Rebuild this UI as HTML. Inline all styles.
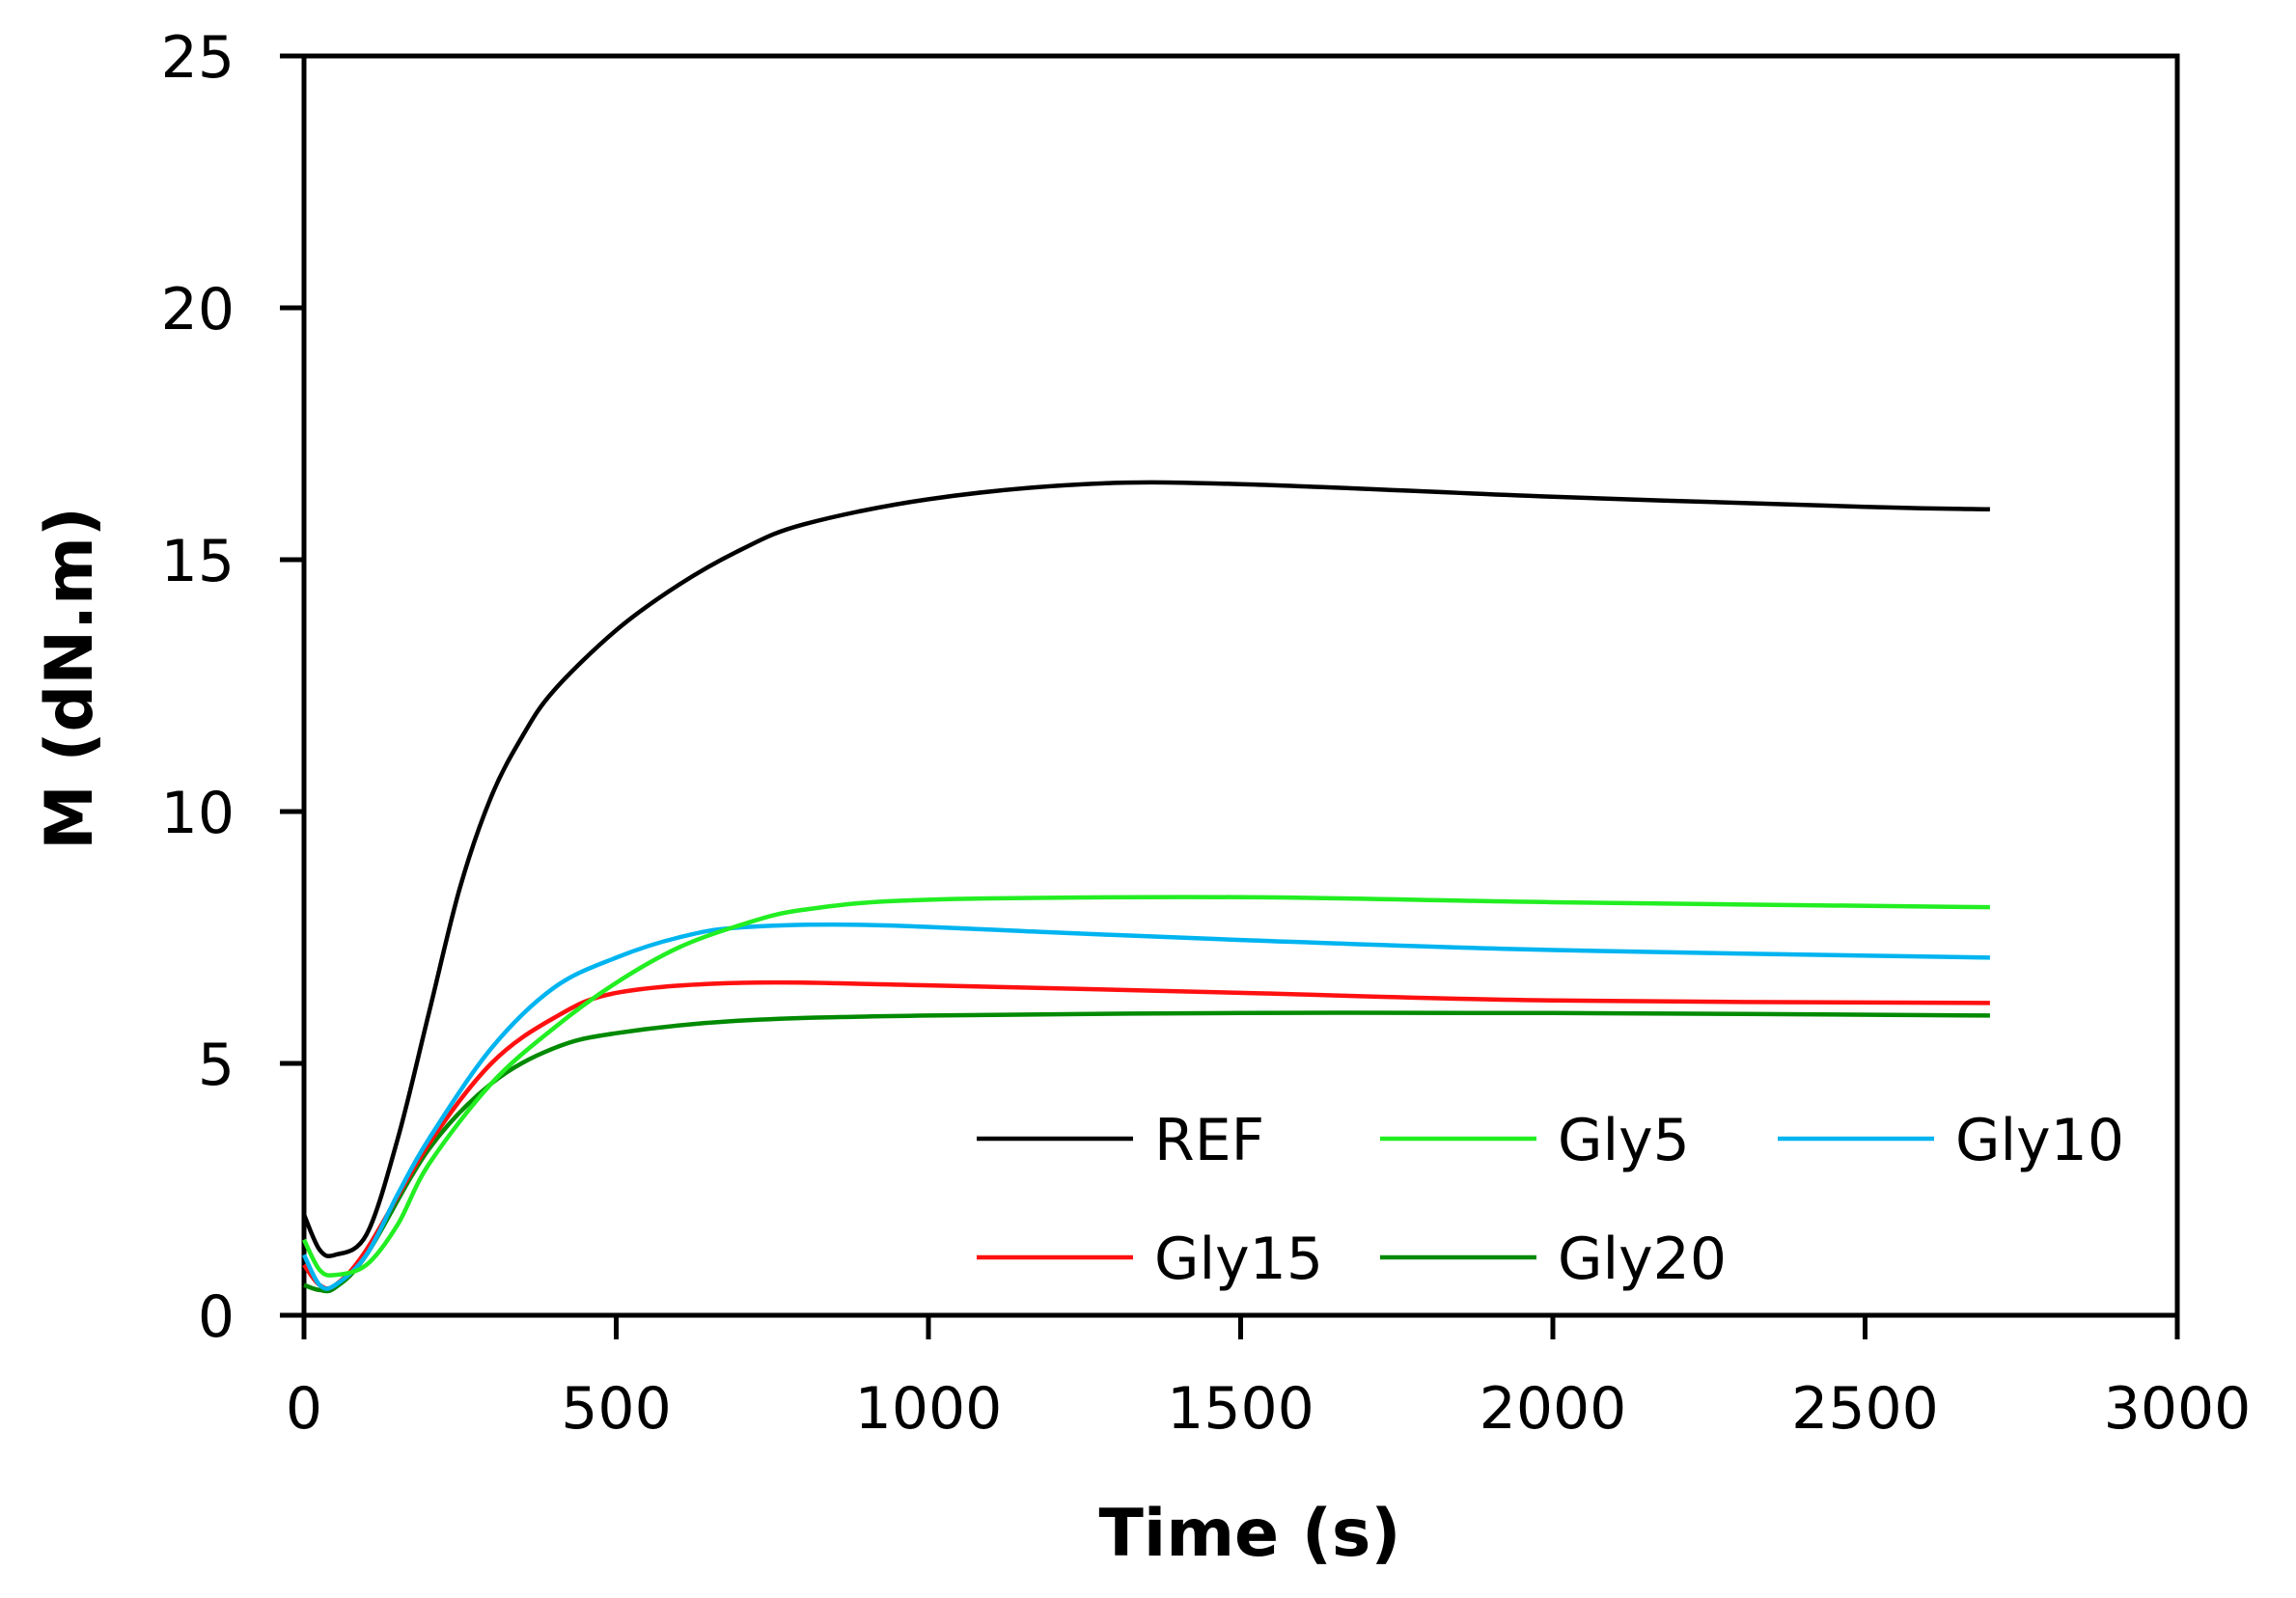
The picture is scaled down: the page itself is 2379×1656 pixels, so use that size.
<!DOCTYPE html>
<html><head><meta charset="utf-8"><style>
html,body{margin:0;padding:0;background:#fff;}
svg{display:block;font-family:"DejaVu Sans","Liberation Sans",sans-serif;}
</style></head><body>
<svg id="chart" width="2379" height="1656" viewBox="0 0 2379 1656">
<g id="axes"></g><g id="series"></g><g id="legend"></g>
<text x="1295" y="1612" font-size="68" font-weight="bold" text-anchor="middle">Time (s)</text>
<text transform="translate(95,703) rotate(-90)" font-size="68" font-weight="bold" text-anchor="middle">M (dN.m)</text>
</svg>
<script>
const xTicks=[0,500,1000,1500,2000,2500,3000];
const yTicks=[0,5,10,15,20,25];
const seriesNames=["REF","Gly5","Gly10","Gly15","Gly20"];
const seriesColors=["#000000","#22ee22","#00b4f0","#ff1010","#008a00"];
const timeREF=[0,25,50,100,150,200,250,300,350,400,500,600,700,800,1000,1250,1500,2000,2500,2700];
const valREF=[2.0,1.3,1.2,1.6,3.5,6.0,8.5,10.3,11.5,12.4,13.6,14.5,15.2,15.7,16.2,16.5,16.5,16.25,16.05,16.0];
const timeGly5=[0,25,50,100,150,200,300,400,500,600,700,800,1000,1500,2000,2700];
const valGly5=[1.5,0.9,0.8,1.0,1.8,3.0,4.6,5.7,6.6,7.3,7.75,8.05,8.25,8.3,8.2,8.1];
const timeGly10=[0,25,50,100,150,200,300,400,500,600,700,900,1200,1500,2000,2700];
const valGly10=[1.2,0.6,0.6,1.2,2.4,3.5,5.3,6.5,7.1,7.5,7.7,7.75,7.6,7.45,7.25,7.1];
const timeGly15=[0,25,50,100,200,300,400,500,700,1000,1500,2000,2700];
const valGly15=[1.0,0.6,0.6,1.3,3.4,5.0,5.9,6.4,6.6,6.55,6.4,6.25,6.2];
const timeGly20=[0,25,50,100,200,300,400,500,700,1000,1500,2000,2700];
const valGly20=[0.6,0.5,0.55,1.2,3.3,4.6,5.3,5.6,5.85,5.95,6.0,6.0,5.95];
const times=[timeREF,timeGly5,timeGly10,timeGly15,timeGly20];
const vals=[valREF,valGly5,valGly10,valGly15,valGly20];

const L=315,R=2256,T=58,B=1363;
const xs=v=>L+(v-0)/(3000-0)*(R-L);
const ys=v=>B-(v-0)/(25-0)*(B-T);
const NS="http://www.w3.org/2000/svg";
function mk(tag,parent,attrs){const e=document.createElementNS(NS,tag);for(const k in attrs)e.setAttribute(k,attrs[k]);parent.appendChild(e);return e;}
const axes=document.getElementById('axes');
const frame=mk('rect',axes,{x:L,y:T,width:R-L,height:B-T,fill:'none',stroke:'#000','stroke-width':5});


xTicks.forEach(t=>{
 const tk=mk('line',axes,{x1:xs(t),x2:xs(t),y1:B,y2:B+25,stroke:'#000','stroke-width':5});
 
 
 const lb=mk('text',axes,{x:xs(t),y:B+117,'font-size':60,'text-anchor':'middle'});
 lb.textContent=t;
 
 
});
yTicks.forEach(t=>{
 const tk=mk('line',axes,{x1:L-25,x2:L,y1:ys(t),y2:ys(t),stroke:'#000','stroke-width':5});
 
 
 const lb=mk('text',axes,{x:243,y:ys(t)+22,'font-size':60,'text-anchor':'end'});
 lb.textContent=t;
 
 
});
function smooth(pts){
 let d='M'+pts[0][0]+','+pts[0][1];
 for(let i=0;i<pts.length-1;i++){
  const p0=pts[i-1]||pts[i],p1=pts[i],p2=pts[i+1],p3=pts[i+2]||p2;
  const c1=[p1[0]+(p2[0]-p0[0])/6,p1[1]+(p2[1]-p0[1])/6];
  const c2=[p2[0]-(p3[0]-p1[0])/6,p2[1]-(p3[1]-p1[1])/6];
  d+=' C'+c1[0]+','+c1[1]+' '+c2[0]+','+c2[1]+' '+p2[0]+','+p2[1];
 }
 return d;
}
const sg=document.getElementById('series');
[4,3,2,1,0].forEach(i=>{
 const pts=times[i].map((t,j)=>[xs(t),ys(vals[i][j])]);
 const p=mk('path',sg,{d:smooth(pts),fill:'none',stroke:seriesColors[i],'stroke-width':4.5});
 
 
});
const lg=document.getElementById('legend');
const legPos=[[1012,1180],[1430,1180],[1842,1180],[1012,1303],[1430,1303]];
seriesNames.forEach((n,i)=>{
 const [x,y]=legPos[i];
 const ln=mk('line',lg,{x1:x,x2:x+162,y1:y,y2:y,stroke:seriesColors[i],'stroke-width':4.5});
 
 
 const tx=mk('text',lg,{x:x+184,y:y+22,'font-size':60});
 tx.textContent=n;
 
 
});
</script>
</body></html>
